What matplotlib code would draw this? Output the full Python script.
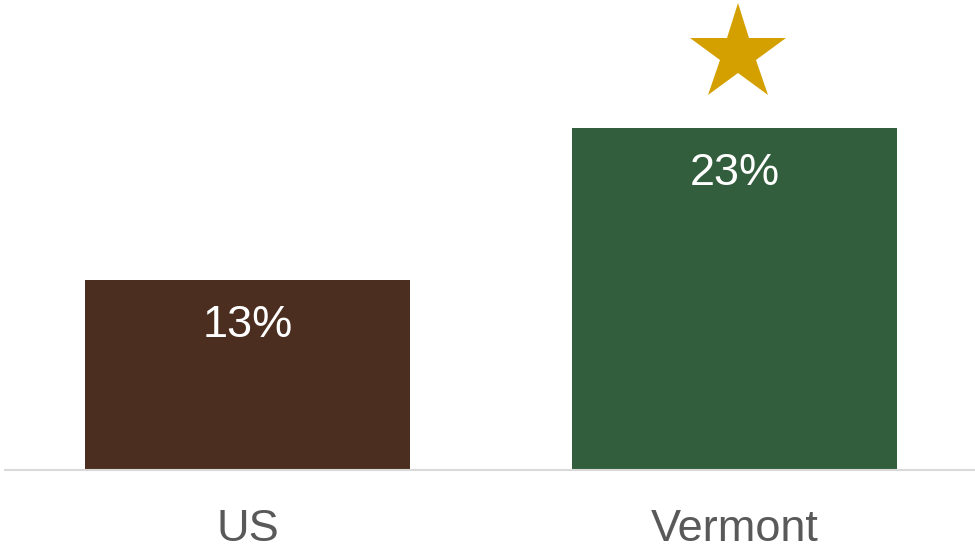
import matplotlib
matplotlib.use('Agg')
import matplotlib.pyplot as plt
import matplotlib.transforms as mtransforms

# data
regioes = ['US', 'Vermont']
valores = [12.85, 23.1]
cores = ['#4B2E20', '#335E3D']
destaque = 'Vermont'

plt.rcParams['font.family'] = ['Liberation Sans', 'DejaVu Sans']

fig = plt.figure(figsize=(9.75, 5.52), dpi=100)
ax = fig.add_axes([5 / 975, 82 / 552, 970 / 975, 470 / 552])

x = list(range(len(regioes)))
barras = ax.bar(x, valores, width=0.667, color=cores)

ax.set_xlim(-0.498, 1.494)
ax.set_ylim(0, 31.75)

# rótulos dentro das barras
for xi, v in zip(x, valores):
    ax.annotate(f'{v:.0f}%', xy=(xi, v), xytext=(0, -41), textcoords='offset points',
                ha='center', va='baseline', color='white', fontsize=32.5)

# estrela acima da barra em destaque
i = regioes.index(destaque)
trans = mtransforms.offset_copy(ax.transData, fig=fig, x=3.5, y=74, units='dots')
ax.plot(x[i], valores[i], marker='*', markersize=73, color='#D4A000',
        markeredgewidth=0, transform=trans, clip_on=False)

ax.set_xticks(x)
ax.set_xticklabels(regioes, fontsize=32.5, color='#595959')
ax.tick_params(axis='x', length=0, pad=28)
ax.set_yticks([])

for s in ['top', 'right', 'left']:
    ax.spines[s].set_visible(False)
ax.spines['bottom'].set_color('#D9D9D9')
ax.spines['bottom'].set_linewidth(1.5)

fig.savefig('out.png', dpi=100)
